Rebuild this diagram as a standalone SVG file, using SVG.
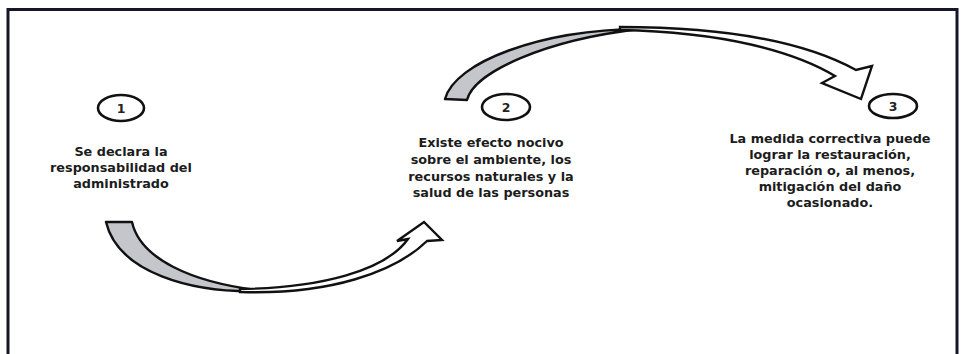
<svg xmlns="http://www.w3.org/2000/svg" width="968" height="354" viewBox="0 0 968 354">
<style>
.frame{fill:none;stroke:#16162a;stroke-width:3}
.node ellipse{fill:#fff;stroke:#111;stroke-width:2.6}
.num{font-family:"DejaVu Sans",sans-serif;font-weight:bold;font-size:12.5px;fill:#222;text-anchor:middle}
.lbl{font-family:"DejaVu Sans",sans-serif;font-weight:bold;font-size:12.8px;fill:#1c1c1c;text-anchor:middle}
.shade{fill:#c4c6cc;stroke:#111;stroke-width:2.4;stroke-linejoin:round}
.band{fill:#fff;stroke:#111;stroke-width:2.4;stroke-linejoin:miter}
</style>
<rect x="0" y="0" width="968" height="354" fill="#fff"/>
<path class="frame" d="M8,360 L8,9.5 L957,9.5 L957,360"/>
<g id="connectors">
  <g id="arrow-1-2">
    <path class="shade" d="M106,222 L132,222 C140,258 190,283 265,291 C190,294 118,272 106,222 Z"/>
    <path class="band" d="M240,292 C330,295 395,272 427,241 L442,240 L424,222 L397,241 L408,239 C385,271 320,288 240,289 Z"/>
  </g>
  <g id="arrow-2-3">
    <path class="shade" d="M445,99 L467,100 C474,72 545,40 640,29 C540,30 455,62 445,99 Z"/>
    <path class="band" d="M620,27 C730,27 805,42 856,70 L872,66 L861,99 L822,83 L835,76 C795,52 725,32 620,30 Z"/>
  </g>
</g>
<g id="node-1" class="node">
  <ellipse cx="121" cy="108" rx="23" ry="13"/>
  <text class="num" x="121" y="112.5">1</text>
  <text class="lbl" x="121" y="156">Se declara la</text>
  <text class="lbl" x="121" y="172">responsabilidad del</text>
  <text class="lbl" x="121" y="188">administrado</text>
</g>
<g id="node-2" class="node">
  <ellipse cx="506" cy="107" rx="24" ry="13"/>
  <text class="num" x="506" y="111.5">2</text>
  <text class="lbl" x="491" y="147">Existe efecto nocivo</text>
  <text class="lbl" x="491" y="164">sobre el ambiente, los</text>
  <text class="lbl" x="491" y="181">recursos naturales y la</text>
  <text class="lbl" x="491" y="197">salud de las personas</text>
</g>
<g id="node-3" class="node">
  <ellipse cx="893" cy="106" rx="24" ry="12"/>
  <text class="num" x="893" y="110.5">3</text>
  <text class="lbl" x="830" y="143">La medida correctiva puede</text>
  <text class="lbl" x="830" y="159">lograr la restauración,</text>
  <text class="lbl" x="830" y="175">reparación o, al menos,</text>
  <text class="lbl" x="830" y="191">mitigación del daño</text>
  <text class="lbl" x="830" y="207">ocasionado.</text>
</g>
</svg>
